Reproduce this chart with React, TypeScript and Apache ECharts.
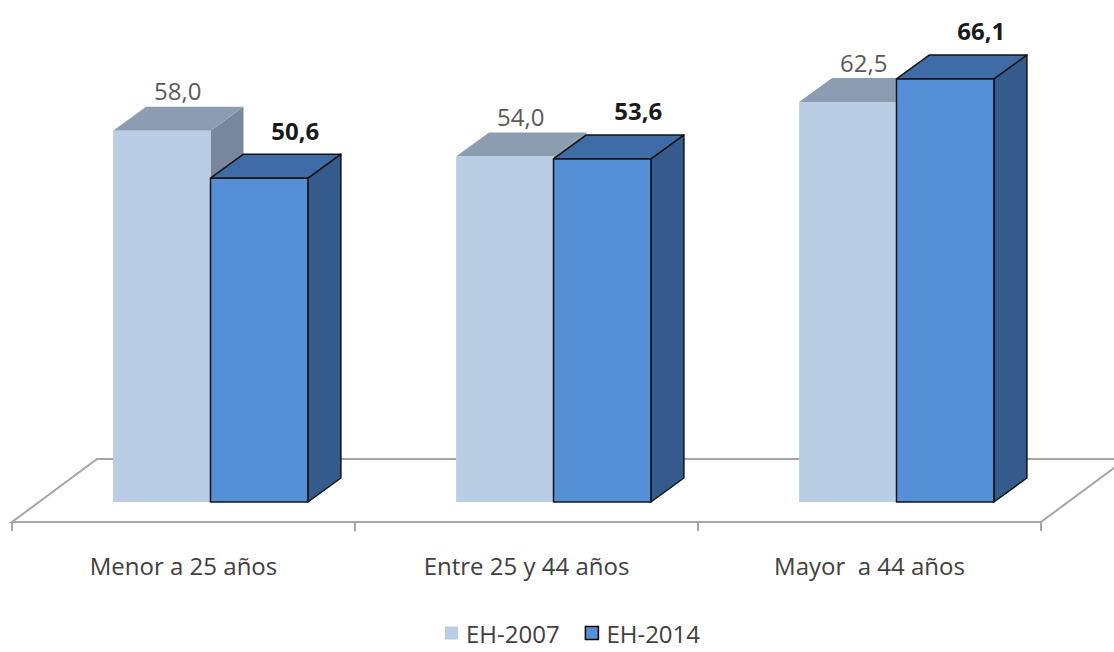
import React, { useEffect, useRef } from "react";
import * as echarts from "echarts";

const categories = ["Menor a 25 años", "Entre 25 y 44 años", "Mayor  a 44 años"];
const seriesNames = ["EH-2007", "EH-2014"];
const eh2007 = [58.0, 54.0, 62.5];
const eh2014 = [50.6, 53.6, 66.1];

const FONT = "'Open Sans', 'Noto Sans', sans-serif";

const palette = [
  { front: "#b9cde5", top: "#8c9cb1", side: "#77889d", stroke: "none", lw: 0, labelColor: "#595959", weight: "normal", lx: 16, ly: 16 },
  { front: "#5590d6", top: "#3f6ca6", side: "#345b8b", stroke: "#141414", lw: 1.5, labelColor: "#1a1a1a", weight: "bold", lx: 36, ly: 24 },
];

const DX = 33;
const DY = 24;

function fmt(v: number) {
  return v.toFixed(1).replace(".", ",");
}

function barRenderer(s: number) {
  return (params: any, api: any) => {
    const ci = api.value(0);
    const val = api.value(1);
    const [cx, yTop] = api.coord([ci, val]);
    const y0 = api.coord([ci, 0])[1];
    const band = api.size([1, 0])[0];
    const w = band * 0.284;
    const xL = s === 0 ? cx - w : cx;
    const xR = xL + w;
    const p = palette[s];
    const stroke = p.lw > 0 ? { stroke: p.stroke, lineWidth: p.lw, lineJoin: "round" } : {};
    return {
      type: "group",
      children: [
        {
          type: "polygon",
          shape: { points: [[xR, yTop], [xR + DX, yTop - DY], [xR + DX, y0 - DY], [xR, y0]] },
          style: { fill: p.side, ...stroke },
        },
        {
          type: "polygon",
          shape: { points: [[xL, yTop], [xR, yTop], [xR + DX, yTop - DY], [xL + DX, yTop - DY]] },
          style: { fill: p.top, ...stroke },
        },
        {
          type: "rect",
          shape: { x: xL, y: yTop, width: w, height: y0 - yTop },
          style: { fill: p.front, ...stroke },
        },
        {
          type: "text",
          x: xL + w / 2 + p.lx,
          y: yTop - DY - p.ly,
          style: {
            text: fmt(val),
            fill: p.labelColor,
            font: `${p.weight} 24px ${FONT}`,
            align: "center",
            verticalAlign: "middle",
          },
        },
      ],
    };
  };
}

function floorRenderer(params: any, api: any) {
  const cs = params.coordSys;
  const x0 = cs.x;
  const x1 = cs.x + cs.width;
  const y0 = api.coord([0, 0])[1];
  return {
    type: "polygon",
    shape: {
      points: [
        [x0 - 27, y0 + 20],
        [x1 - 27, y0 + 20],
        [x1 + 58, y0 - 43],
        [x0 + 58, y0 - 43],
      ],
    },
    style: { fill: "#ffffff", stroke: "#a6a6a6", lineWidth: 2 },
  };
}

export default function App() {
  const ref = useRef<HTMLDivElement>(null);
  useEffect(() => {
    if (!ref.current) return;
    const chart = echarts.init(ref.current, undefined, { renderer: "svg" });
    chart.setOption({
      animation: false,
      backgroundColor: "#ffffff",
      grid: [
        { left: 39, right: 46, top: 54, height: 448 },
        { left: 12, right: 73, top: 100, height: 422 },
      ],
      xAxis: [
        { type: "category", gridIndex: 0, data: categories, show: false },
        {
          type: "category",
          gridIndex: 1,
          data: categories,
          axisLine: { show: true, lineStyle: { color: "#a6a6a6", width: 2 } },
          axisTick: { show: true, length: 9, lineStyle: { color: "#a6a6a6", width: 2 } },
          axisLabel: { margin: 31, fontSize: 24, fontFamily: FONT, color: "#404040" },
        },
      ],
      yAxis: [
        { type: "value", gridIndex: 0, min: 0, max: 70, show: false },
        { type: "value", gridIndex: 1, min: 0, max: 1, show: false },
      ],
      legend: {
        top: 615,
        left: 440,
        padding: 5,
        itemWidth: 13,
        itemHeight: 13,
        itemGap: 25,
        textStyle: { fontSize: 24, lineHeight: 26, fontFamily: FONT, color: "#404040", padding: [0, 0, 0, 3] },
        data: [
          { name: seriesNames[0], icon: "rect", itemStyle: { color: palette[0].front, borderWidth: 0 } },
          { name: seriesNames[1], icon: "rect", itemStyle: { color: palette[1].front, borderColor: "#000000", borderWidth: 1.5 } },
        ],
      },
      series: [
        {
          type: "custom",
          name: "floor",
          xAxisIndex: 0,
          yAxisIndex: 0,
          z: 1,
          silent: true,
          renderItem: floorRenderer,
          data: [[0, 0]],
        },
        {
          type: "custom",
          name: seriesNames[0],
          xAxisIndex: 0,
          yAxisIndex: 0,
          z: 2,
          itemStyle: { color: palette[0].front },
          renderItem: barRenderer(0),
          encode: { x: 0, y: 1 },
          data: eh2007.map((v, i) => [i, v]),
        },
        {
          type: "custom",
          name: seriesNames[1],
          xAxisIndex: 0,
          yAxisIndex: 0,
          z: 3,
          itemStyle: { color: palette[1].front },
          renderItem: barRenderer(1),
          encode: { x: 0, y: 1 },
          data: eh2014.map((v, i) => [i, v]),
        },
      ],
    });
    return () => chart.dispose();
  }, []);
  return (
    <div
      ref={ref}
      style={{ position: "fixed", left: 0, top: 0, width: 1114, height: 652, background: "#fff" }}
    />
  );
}
